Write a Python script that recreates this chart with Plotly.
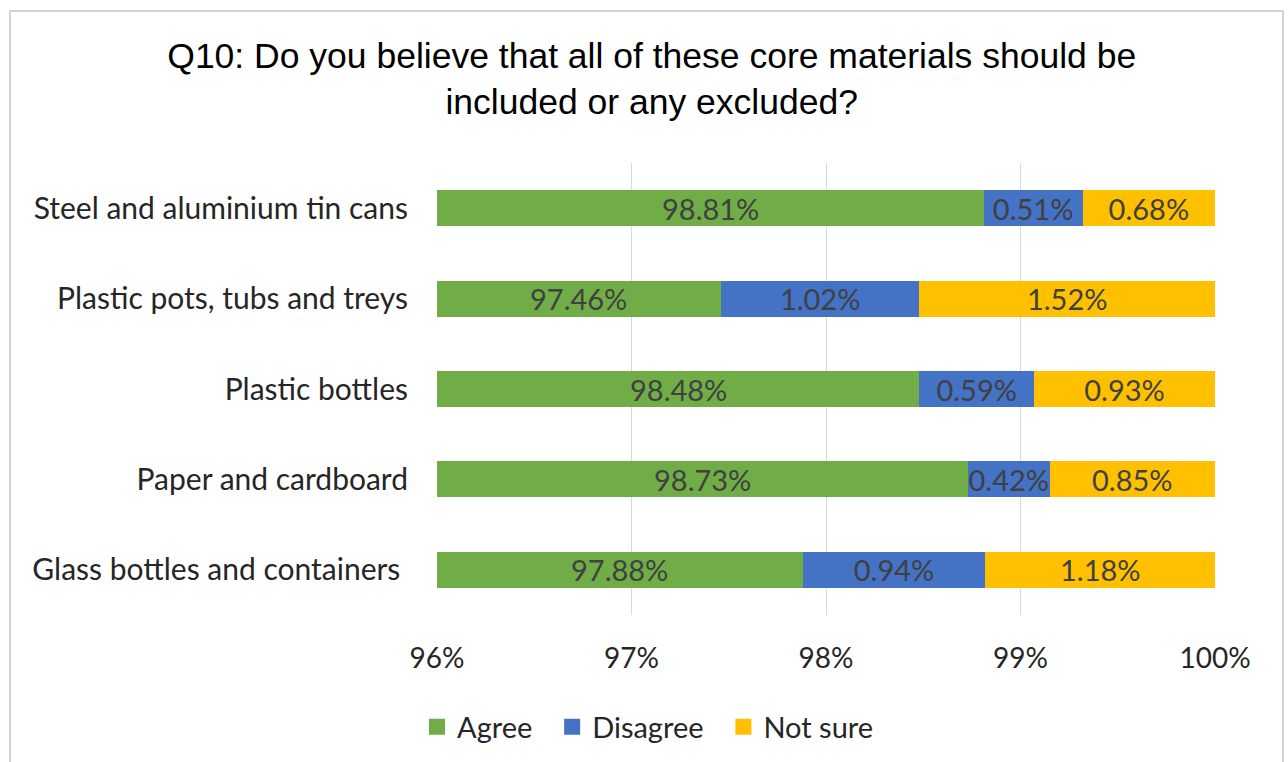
import plotly.graph_objects as go

# Survey responses per core material (share of respondents)
materials = [
    "Steel and aluminium tin cans",
    "Plastic pots, tubs and treys",
    "Plastic bottles",
    "Paper and cardboard",
    "Glass bottles and containers ",
]
agree = [0.9881, 0.9746, 0.9848, 0.9873, 0.9788]
disagree = [0.0051, 0.0102, 0.0059, 0.0042, 0.0094]
not_sure = [0.0068, 0.0152, 0.0093, 0.0085, 0.0118]
tick_vals = [0.96, 0.97, 0.98, 0.99, 1.00]
tick_text = ["96%", "97%", "98%", "99%", "100%"]

# series name, values, colour, trailing padding for the legend entry
series = [
    ("Agree", agree, "#70AD47", 2),
    ("Disagree", disagree, "#4472C4", 2),
    ("Not sure", not_sure, "#FFC000", 0),
]

W, H = 1288, 762
ML, MR, MT, MB = 437, 73, 163, 147
X_MIN, X_MAX = tick_vals[0], tick_vals[-1]

LABEL_FONT = dict(family="Lato, Calibri, sans-serif", size=29, color="#404040")
AXIS_FONT = dict(family="Lato, Calibri, sans-serif", size=28, color="#262626")
CAT_FONT = dict(family="Lato, Calibri, sans-serif", size=30, color="#262626")
LEGEND_FONT = dict(family="Lato, Calibri, sans-serif", size=29, color="#262626")

fig = go.Figure()
for name, vals, color, pad in series:
    is_agree = name == "Agree"
    fig.add_trace(go.Bar(
        name=name,
        y=materials,
        x=vals,
        orientation="h",
        marker=dict(color=color, line=dict(width=0)),
        # the first segment starts far left of the visible range, so its
        # label is placed separately in the middle of the visible part
        texttemplate=None if is_agree else "%{x:.2%}",
        textposition="none" if is_agree else "inside",
        insidetextanchor="middle",
        constraintext="none",
        textfont=LABEL_FONT,
        hoverinfo="skip",
        showlegend=False,
    ))
    # legend entry with a larger square swatch
    fig.add_trace(go.Scatter(
        name=name + "\u00a0" * pad,
        x=[None], y=[None],
        mode="markers",
        marker=dict(symbol="square", size=18, color=color),
        showlegend=True,
        hoverinfo="skip",
    ))

for cat, a in zip(materials, agree):
    fig.add_annotation(
        x=(X_MIN + a) / 2, y=cat, xref="x", yref="y",
        text=f"{a:.2%}", showarrow=False,
        xanchor="center", yanchor="middle",
        font=LABEL_FONT,
    )

# Light frame around the whole chart, expressed in plot-area (paper) units
pw, ph = W - ML - MR, H - MT - MB
def px_x(px):
    return (px - ML) / pw
def px_y(py):
    return (H - MB - py) / ph

fig.add_shape(
    type="rect", xref="paper", yref="paper",
    x0=px_x(10), x1=px_x(1283), y0=px_y(775), y1=px_y(11),
    line=dict(color="#D4D4D4", width=2), fillcolor="rgba(0,0,0,0)", layer="below",
)

fig.update_layout(
    width=W, height=H,
    barmode="stack",
    bargap=0.6,
    paper_bgcolor="white",
    plot_bgcolor="white",
    margin=dict(l=ML, r=MR, t=MT, b=MB, pad=0),
    title=dict(
        text="Q10: Do you believe that all of these core materials should be<br>included or any excluded?",
        x=0.506, xanchor="center", xref="container",
        y=1 - 68 / H, yanchor="middle", yref="container",
        font=dict(family="Liberation Sans, Arial, sans-serif", size=35.5, color="#000000"),
    ),
    xaxis=dict(
        range=[X_MIN, X_MAX],
        tickvals=tick_vals,
        ticktext=tick_text,
        showgrid=True,
        gridcolor="#D9D9D9",
        gridwidth=1,
        zeroline=False,
        showline=False,
        ticks="",
        ticklabelstandoff=24,
        tickfont=AXIS_FONT,
        fixedrange=True,
    ),
    yaxis=dict(
        autorange="reversed",
        showgrid=False,
        zeroline=False,
        showline=False,
        ticks="",
        ticklabelstandoff=28,
        tickfont=CAT_FONT,
        fixedrange=True,
    ),
    legend=dict(
        orientation="h",
        x=417 / W, xanchor="left", xref="container",
        y=1 - 727 / H, yanchor="middle", yref="container",
        font=LEGEND_FONT,
        traceorder="normal",
        itemwidth=30,
    ),
    showlegend=True,
)

fig.write_html("out.html")
